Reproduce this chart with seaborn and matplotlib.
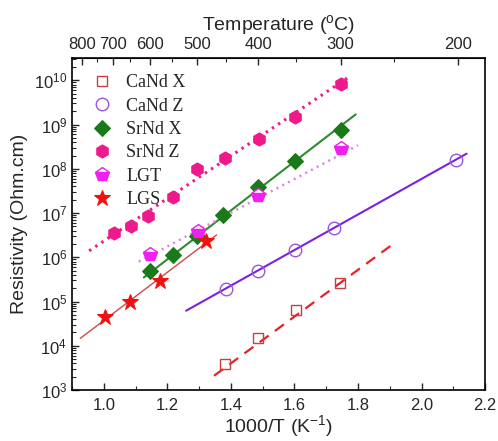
import numpy as np
import pandas as pd
import matplotlib
matplotlib.use("Agg")
import matplotlib.pyplot as plt
import seaborn as sns

# data (x = 1000/T in K^-1, y = resistivity in Ohm.cm)
canx_x = [1.382, 1.485, 1.604, 1.743]
canx_y = [3.8e3, 1.48e4, 6.4e4, 2.6e5]
canz_x = [1.384, 1.485, 1.602, 1.725, 2.110]
canz_y = [1.95e5, 5.0e5, 1.45e6, 4.5e6, 1.55e8]
srnx_x = [1.147, 1.218, 1.293, 1.376, 1.485, 1.603, 1.746]
srnx_y = [4.9e5, 1.15e6, 3.0e6, 8.9e6, 3.9e7, 1.5e8, 7.4e8]
srnz_x = [1.031, 1.085, 1.138, 1.217, 1.293, 1.382, 1.487, 1.603, 1.746]
srnz_y = [3.5e6, 5.1e6, 8.5e6, 2.3e7, 1.0e8, 1.8e8, 4.7e8, 1.45e9, 8.1e9]
lgt_x = [1.147, 1.296, 1.485, 1.746]
lgt_y = [1.2e6, 4.0e6, 2.5e7, 2.9e8]
lgs_x = [1.004, 1.082, 1.176, 1.322]
lgs_y = [4.5e4, 9.6e4, 2.9e5, 2.3e6]

# fitted lines (end points)
fit_canx = ([1.347, 1.902], [2.1e3, 1.8e6])
fit_canz = ([1.259, 2.142], [6.2e4, 2.2e8])
fit_srnx = ([1.126, 1.793], [3.5e5, 1.7e9])
fit_srnz = ([0.954, 1.772], [1.4e6, 1.2e10])
fit_lgt = ([1.110, 1.800], [8.0e5, 3.4e8])
fit_lgs = ([0.926, 1.355], [1.47e4, 3.2e6])

x_ticks = [1.0, 1.2, 1.4, 1.6, 1.8, 2.0, 2.2]
y_ticks = [1e3, 1e4, 1e5, 1e6, 1e7, 1e8, 1e9, 1e10]
temp_major = [800, 700, 600, 500, 400, 300, 200]
temp_minor = [750, 650, 550, 450, 350, 250]

sns.set_style("ticks")
plt.rcParams["font.family"] = ["Liberation Sans", "DejaVu Sans"]
plt.rcParams["mathtext.fontset"] = "custom"
plt.rcParams["mathtext.rm"] = "Liberation Sans"
plt.rcParams["mathtext.it"] = "Liberation Sans:italic"
plt.rcParams["xtick.direction"] = "in"
plt.rcParams["ytick.direction"] = "in"

fig = plt.figure(figsize=(4.98, 4.41), dpi=100)
ax = fig.add_axes([0.1446, 0.1156, 0.8294, 0.7529])

def fitline(fit, **kw):
    d = pd.DataFrame({"x": fit[0], "y": fit[1]})
    sns.lineplot(data=d, x="x", y="y", ax=ax, legend=False, **kw)

fitline(fit_canx, color="#e8202a", lw=1.6, dashes=False, linestyle=(0, (5, 3.5)))
fitline(fit_canz, color="#7a22dd", lw=1.5)
fitline(fit_srnx, color="#2e8b2e", lw=1.5)
fitline(fit_srnz, color="#ee1a8c", lw=2.2, linestyle=(0, (0.8, 1.6)))
fitline(fit_lgt, color="#e080e8", lw=1.8, linestyle=(0, (0.8, 1.8)))
fitline(fit_lgs, color="#cc4a4a", lw=1.0)

def pts(xs, ys, label, **kw):
    d = pd.DataFrame({"x": xs, "y": ys})
    sns.lineplot(data=d, x="x", y="y", ax=ax, label=label, linestyle="none", **kw)

pts(canx_x, canx_y, "CaNd X", marker="s", ms=7.5, mfc="none", mec="#c84040", mew=1.0)
pts(canz_x, canz_y, "CaNd Z", marker="o", ms=9, mfc="none", mec="#9955dd", mew=1.0)
pts(srnx_x, srnx_y, "SrNd X", marker="D", ms=8, color="#1a7a1a", mec="#1a7a1a")
pts(srnz_x, srnz_y, "SrNd Z", marker="h", ms=9.5, color="#ee1a8c", mec="#ee1a8c")
# half-filled marker: plain matplotlib, seaborn overrides the fill style
ax.plot(lgt_x, lgt_y, linestyle="none", marker="p", ms=10, label="LGT",
        mec="#f020f0", mfc="#f020f0", markerfacecoloralt="white",
        fillstyle="bottom", mew=1.0)
pts(lgs_x, lgs_y, "LGS", marker="*", ms=12, color="#f01010", mec="#f01010")

ax.set_yscale("log")
ax.set_xlim(0.9, 2.2)
ax.set_ylim(1e3, 3.2e10)
ax.set_xticks(x_ticks)
ax.set_xticks(np.arange(0.9, 2.25, 0.1), minor=True)
ax.set_xticklabels(["%.1f" % v for v in x_ticks])
ax.yaxis.set_major_locator(matplotlib.ticker.FixedLocator(y_ticks))
ax.yaxis.set_major_formatter(matplotlib.ticker.LogFormatterSciNotation())
ax.yaxis.set_minor_locator(matplotlib.ticker.LogLocator(base=10, subs=np.arange(2, 10), numticks=12))
ax.yaxis.set_minor_formatter(matplotlib.ticker.NullFormatter())
ax.tick_params(axis="both", which="major", length=5, width=1, labelsize=12)
ax.tick_params(axis="both", which="minor", length=3, width=0.8)
ax.tick_params(axis="x", pad=6)
for s in ax.spines.values():
    s.set_linewidth(1.2)
    s.set_color("black")

ax.set_xlabel("1000/T (K$^{-1}$)", fontsize=14, labelpad=0)
ax.set_ylabel("Resistivity (Ohm.cm)", fontsize=14, labelpad=4)

top = ax.secondary_xaxis("top", functions=(lambda x: 1000.0 / np.where(x == 0, 1e-9, x) - 273.0,
                                          lambda t: 1000.0 / np.where(t == -273.0, 1e-9, t + 273.0)))
top.set_xticks(temp_major)
top.set_xticks(temp_minor, minor=True)
top.set_xticklabels([str(t) for t in temp_major])
top.tick_params(axis="x", which="major", direction="in", length=5, width=1, labelsize=12, pad=4)
top.tick_params(axis="x", which="minor", direction="in", length=3, width=0.8)
top.set_xlabel("Temperature ($^{\\rm o}$C)", fontsize=14, labelpad=5)

ax.legend(loc="upper left", frameon=False, prop={"family": "Liberation Serif", "size": 13},
          handletextpad=0.6, labelspacing=0.35, borderaxespad=0.5, handlelength=1.5,
          bbox_to_anchor=(0.0, 1.0))

fig.savefig("out.png", dpi=100)
